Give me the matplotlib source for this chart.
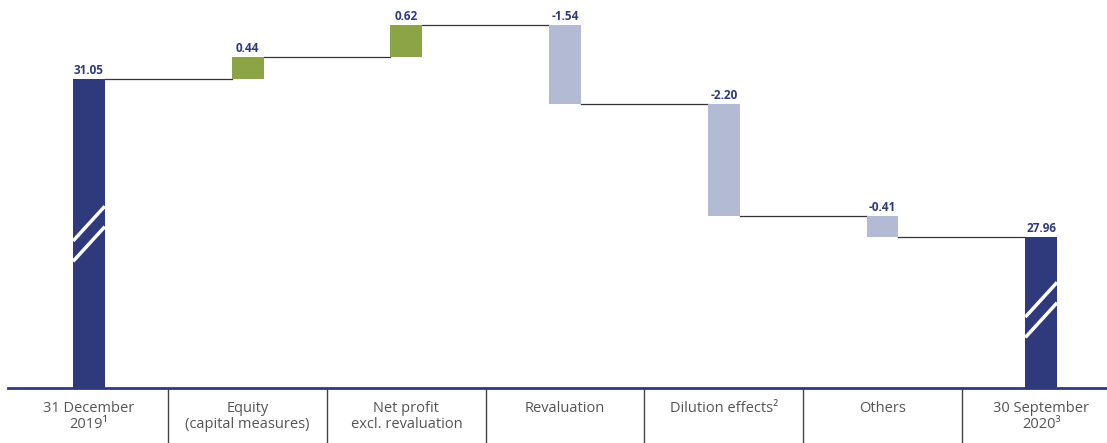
import matplotlib.pyplot as plt
from matplotlib.lines import Line2D

categories = ['31 December\n2019\u00b9', 'Equity\n(capital measures)', 'Net profit\nexcl. revaluation',
              'Revaluation', 'Dilution effects\u00b2', 'Others', '30 September\n2020\u00b3']
start_total = 31.05
deltas = [0.44, 0.62, -1.54, -2.20, -0.41]
end_total = 27.96
axis_floor = 25.0

NAVY = '#2f3a7c'
GREEN = '#8ba446'
GREY_BLUE = '#b3bad4'

plt.rcParams['font.family'] = ['Open Sans', 'DejaVu Sans']

fig = plt.figure(figsize=(11.07, 4.43), dpi=100)
ax = fig.add_axes([8 / 1107, 55 / 443, 1 - 8 / 1107, 388 / 443])

width = 0.2
# bottoms/heights for each bar
bottoms = [axis_floor]
heights = [start_total - axis_floor]
colors = [NAVY]
labels = ['%.2f' % start_total]
level = start_total
levels = [level]
for d in deltas:
    new = level + d
    bottoms.append(min(level, new))
    heights.append(abs(d))
    colors.append(GREEN if d > 0 else GREY_BLUE)
    labels.append('%.2f' % d)
    level = new
    levels.append(level)
bottoms.append(axis_floor)
heights.append(end_total - axis_floor)
colors.append(NAVY)
labels.append('%.2f' % end_total)

x = list(range(len(categories)))
ax.bar(x, heights, bottom=bottoms, width=width, color=colors, zorder=2)

# value labels
for i in x:
    top = bottoms[i] + heights[i]
    ax.annotate(labels[i], (i, top), xytext=(0, 1.5), textcoords='offset points',
                ha='center', va='bottom', fontsize=8.5, fontweight='bold', color=NAVY)

# connectors
for i in range(len(levels)):
    ax.plot([i + width / 2, i + 1 - width / 2], [levels[i], levels[i]], color='#333333', lw=0.9, zorder=1)

# break marks on total bars
for i, ymid in [(0, 28.02), (6, 26.53)]:
    for off in (0.2, -0.2):
        ax.add_line(Line2D([i - width / 2, i + width / 2], [ymid + off - 0.34, ymid + off + 0.34],
                           color='white', lw=2.5, zorder=3, solid_capstyle='butt'))

# separators under the axis
ax.vlines([i + 0.5 for i in x[:-1]], -0.15, 0, transform=ax.get_xaxis_transform(),
          color='#444444', lw=1, clip_on=False)

ax.set_xlim(-0.51, (1107 - 89) / 158.7)
ax.set_ylim(axis_floor, 32.11 + 25 / 51.1)
for s in ['top', 'right', 'left']:
    ax.spines[s].set_visible(False)
ax.spines['bottom'].set_color(NAVY)
ax.spines['bottom'].set_linewidth(2)
ax.set_yticks([])
ax.set_xticks(x)
ax.set_xticklabels(categories, fontsize=10.5, color='#555555', linespacing=1.1)
ax.tick_params(axis='x', length=0, pad=9)

fig.savefig('out.png', dpi=100)
